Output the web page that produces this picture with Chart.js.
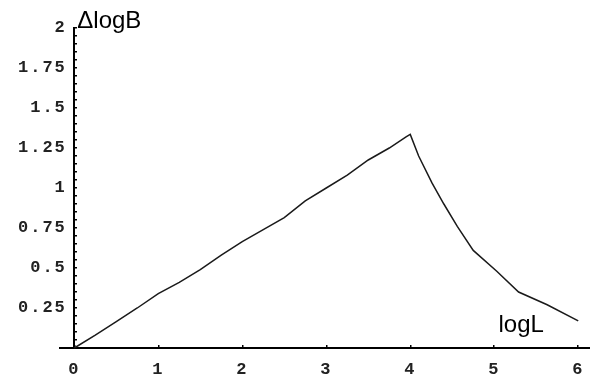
<!DOCTYPE html>
<html>
<head>
<meta charset="utf-8">
<script src="https://cdn.jsdelivr.net/npm/chart.js@4.4.1/dist/chart.umd.min.js"></script>
<style>
  body { margin: 0; background: #fff; }
  #contenedor { width: 590px; height: 381px; }
</style>
</head>
<body>
<div id="contenedor"><canvas id="grafico" width="590" height="381"></canvas></div>
<script>
// Datos
const logL      = [0, 0.25, 0.5, 0.75, 1, 1.25, 1.5, 1.75, 2, 2.25, 2.5, 2.75, 3, 3.25, 3.5, 3.75, 3.95, 4,
                   4.1, 4.26, 4.4, 4.56, 4.75, 5.03, 5.29, 5.63, 6];
const deltaLogB = [0, 0.08, 0.165, 0.25, 0.34, 0.41, 0.49, 0.58, 0.665, 0.74, 0.815, 0.92, 1.0, 1.08, 1.175, 1.25, 1.32, 1.335,
                   1.2, 1.03, 0.9, 0.76, 0.61, 0.48, 0.35, 0.27, 0.17];

const xTicks = [0, 1, 2, 3, 4, 5, 6];
const yTicks = [0.25, 0.5, 0.75, 1, 1.25, 1.5, 1.75, 2];
const yMinorStep = 0.05;

const puntos = logL.map((x, i) => ({ x: x, y: deltaLogB[i] }));

// Ticks menores del eje y
let yTodos = [];
for (let i = 1; i <= 40; i++) {
    yTodos.push(Math.round(i * yMinorStep * 100) / 100);
}

const fuenteTicks = { family: '"Liberation Mono", monospace', size: 17, weight: 'bold' };

// Espaciado de letras para las etiquetas de los ticks (estilo Courier ancho)
const espaciado = {
    id: 'espaciado',
    beforeDraw(chart) { chart.ctx.letterSpacing = '2px'; },
    beforeDatasetsDraw(chart) { chart.ctx.letterSpacing = '0px'; }
};

// Títulos de los ejes
const titulosEjes = {
    id: 'titulosEjes',
    afterDraw(chart) {
        const ctx = chart.ctx;
        const sx = chart.scales.x;
        const sy = chart.scales.y;
        ctx.save();
        ctx.letterSpacing = '0px';
        ctx.fillStyle = '#000';
        ctx.font = '24px "Liberation Sans", Arial, sans-serif';
        ctx.textAlign = 'left';
        ctx.textBaseline = 'alphabetic';
        ctx.fillText('\u0394logB', sx.getPixelForValue(0) + 3, sy.getPixelForValue(2));
        ctx.fillText('logL', sx.getPixelForValue(5.05), sy.getPixelForValue(0.1));
        ctx.restore();
    }
};

new Chart(document.getElementById('grafico'), {
    type: 'line',
    data: {
        datasets: [{
            data: puntos,
            borderColor: '#1a1a1a',
            borderWidth: 1.5,
            pointRadius: 0,
            tension: 0,
            fill: false,
            clip: 6
        }]
    },
    options: {
        responsive: false,
        animation: false,
        layout: { autoPadding: false, padding: { left: 0, right: 0, top: 28, bottom: 33 } },
        plugins: { legend: { display: false }, tooltip: { enabled: false } },
        scales: {
            x: {
                type: 'linear',
                position: { y: 0 },
                min: -0.17,
                max: 6.14,
                afterBuildTicks: (scale) => { scale.ticks = xTicks.map(v => ({ value: v })); },
                // sin relleno extra por la última etiqueta
                afterFit: (scale) => { scale.paddingLeft = 0; scale.paddingRight = 0; },
                ticks: {
                    font: fuenteTicks,
                    color: '#222',
                    padding: 16,
                    maxRotation: 0,
                    callback: (v) => String(v)
                },
                grid: { drawOnChartArea: false, drawTicks: true, tickLength: -4, color: '#000', lineWidth: 1.5 },
                border: { display: true, color: '#000', width: 2 }
            },
            y: {
                type: 'linear',
                position: { x: 0 },
                min: 0,
                max: 2,
                afterBuildTicks: (scale) => { scale.ticks = yTodos.map(v => ({ value: v })); },
                ticks: { display: false },
                grid: { drawOnChartArea: false, drawTicks: true, tickLength: -4, color: '#000', lineWidth: 1.5 },
                border: { display: true, color: '#000', width: 2 }
            },
            yEtiquetas: {
                type: 'linear',
                position: 'left',
                min: 0,
                max: 2,
                afterBuildTicks: (scale) => { scale.ticks = yTicks.map(v => ({ value: v })); },
                afterFit: (scale) => { scale.width = 60; },
                ticks: {
                    font: fuenteTicks,
                    color: '#222',
                    mirror: true,
                    crossAlign: 'far',
                    padding: -34,
                    autoSkip: false,
                    callback: (v) => String(v)
                },
                grid: { display: false },
                border: { display: false }
            }
        }
    },
    plugins: [espaciado, titulosEjes]
});
</script>
</body>
</html>
